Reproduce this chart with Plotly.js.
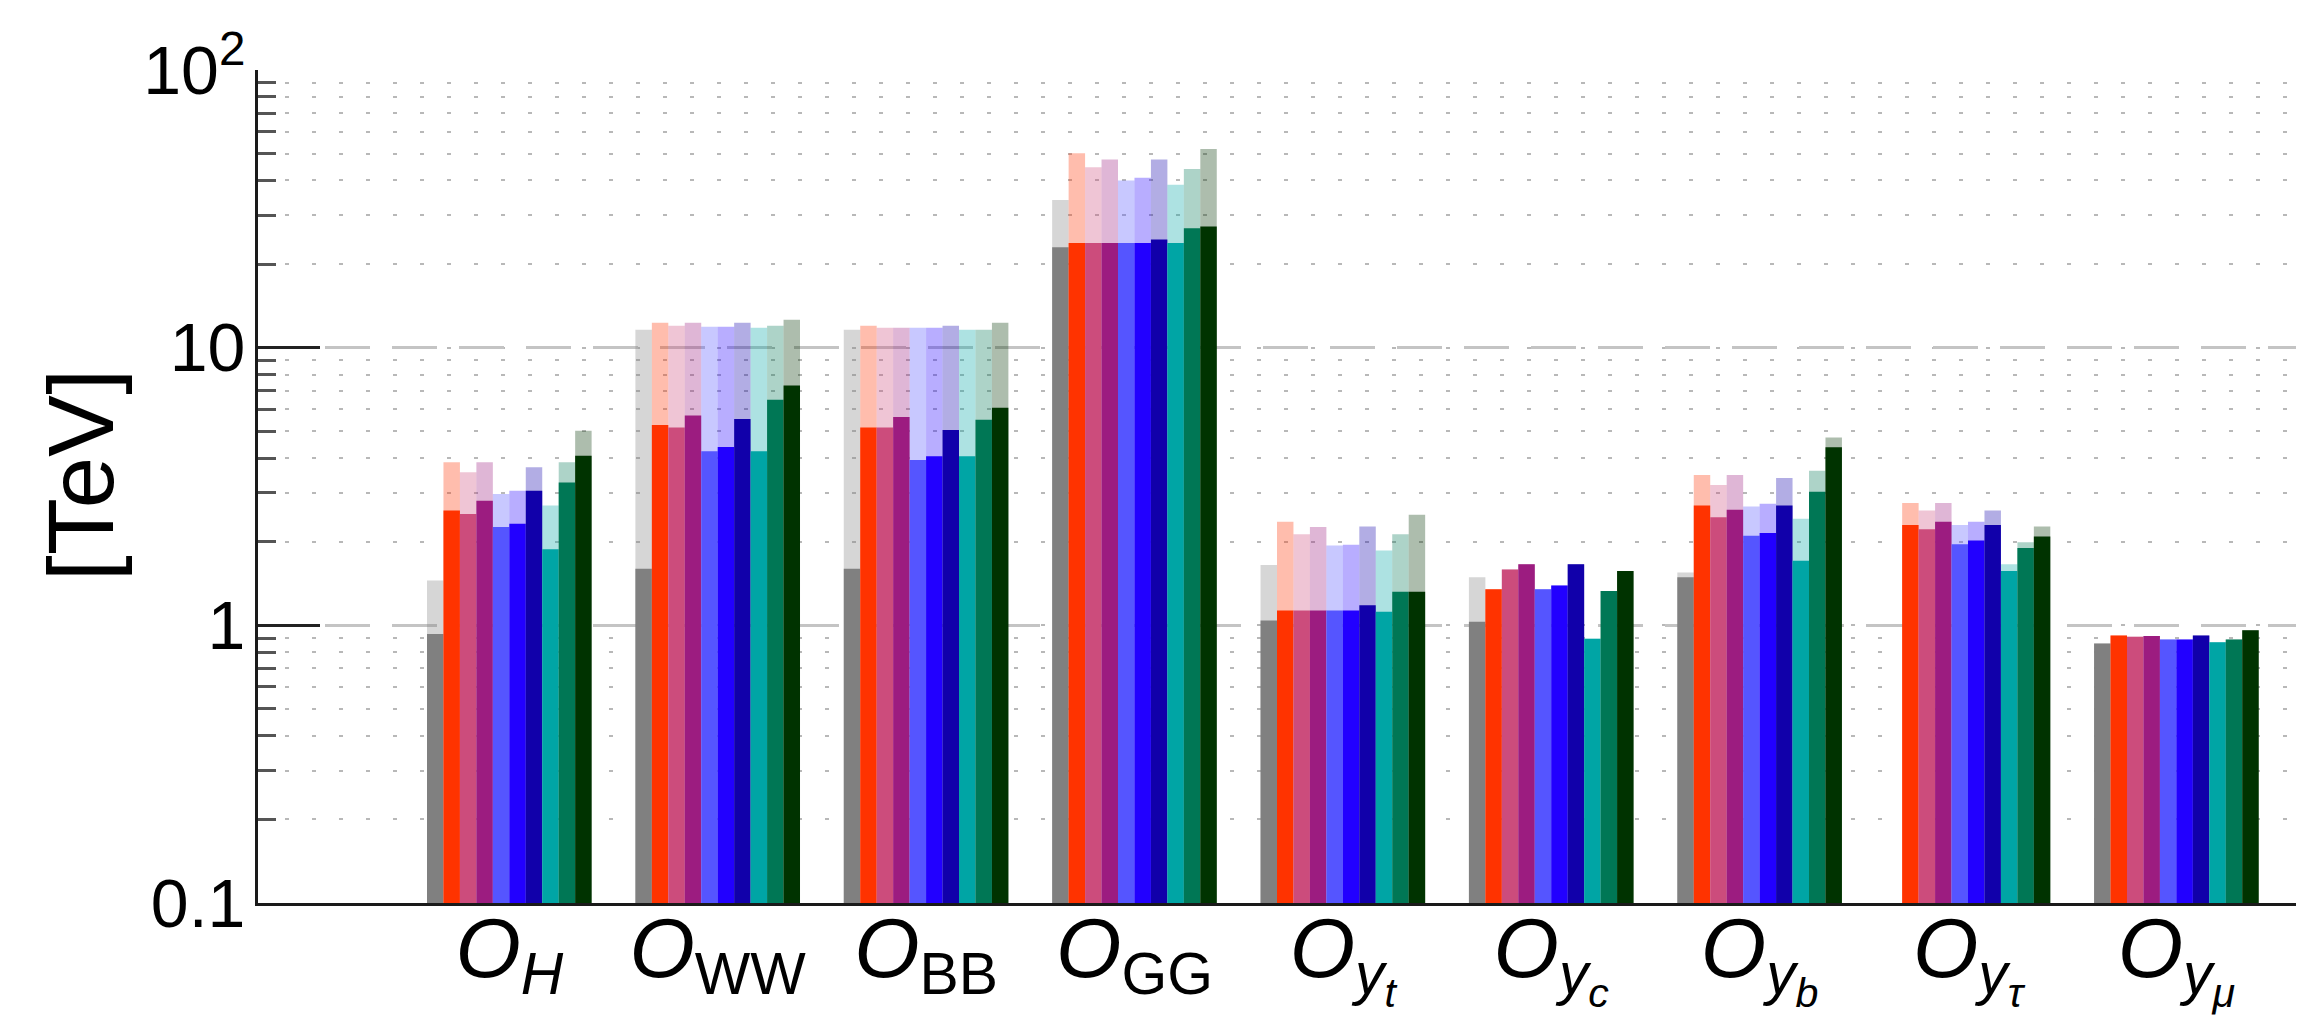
<!DOCTYPE html>
<html>
<head>
<meta charset="utf-8">
<script src="https://cdn.plot.ly/plotly-3.0.1.min.js"></script>
<style>
  html, body { margin: 0; padding: 0; background: #ffffff; }
  #chart { width: 2304px; height: 1028px; }
</style>
</head>
<body>
<div id="chart"></div>
<script>
// Operators on the category axis
const operators = ['O_H', 'O_WW', 'O_BB', 'O_GG', 'O_yt', 'O_yc', 'O_yb', 'O_ytau', 'O_ymu'];
const operatorLabels = [
  '<i>O</i><sub><i>H</i></sub>',
  '<i>O</i><sub>WW</sub>',
  '<i>O</i><sub>BB</sub>',
  '<i>O</i><sub>GG</sub>',
  '<i>O</i><sub><i>y</i><sub><i>t</i></sub></sub>',
  '<i>O</i><sub><i>y</i><sub><i>c</i></sub></sub>',
  '<i>O</i><sub><i>y</i><sub><i>b</i></sub></sub>',
  '<i>O</i><sub><i>y</i><sub><i>τ</i></sub></sub>',
  '<i>O</i><sub><i>y</i><sub><i>μ</i></sub></sub>'
];

// Reach in TeV per scenario: solid (lower) and faded (upper) values
const graySolid   = [0.93, 1.60, 1.60, 23.0, 1.04, 1.03, 1.49, null, 0.86];
const grayUpper   = [1.45, 11.6, 11.6, 34.0, 1.65, 1.49, 1.55, null, 0.86];
const redSolid    = [2.59, 5.27, 5.16, 23.8, 1.13, 1.35, 2.70, 2.30, 0.92];
const redUpper    = [3.87, 12.3, 12.0, 50.1, 2.36, 1.35, 3.48, 2.76, 0.92];
const roseSolid   = [2.52, 5.16, 5.16, 23.8, 1.13, 1.59, 2.45, 2.22, 0.91];
const roseUpper   = [3.56, 12.0, 11.8, 44.6, 2.13, 1.59, 3.20, 2.59, 0.91];
const plumSolid   = [2.81, 5.70, 5.63, 23.8, 1.13, 1.66, 2.61, 2.36, 0.915];
const plumUpper   = [3.87, 12.3, 11.8, 47.6, 2.26, 1.66, 3.48, 2.76, 0.915];
const lilacSolid  = [2.26, 4.24, 3.94, 23.8, 1.13, 1.35, 2.10, 1.96, 0.89];
const lilacUpper  = [2.97, 11.9, 11.8, 40.0, 1.94, 1.35, 2.68, 2.30, 0.89];
const blueSolid   = [2.32, 4.39, 4.06, 23.8, 1.13, 1.39, 2.15, 2.02, 0.89];
const blueUpper   = [3.05, 11.9, 11.8, 40.9, 1.95, 1.39, 2.74, 2.36, 0.89];
const navySolid   = [3.05, 5.53, 5.05, 24.5, 1.18, 1.66, 2.70, 2.30, 0.92];
const navyUpper   = [3.71, 12.3, 12.0, 47.6, 2.27, 1.66, 3.39, 2.59, 0.92];
const tealSolid   = [1.88, 4.24, 4.06, 23.8, 1.12, 0.894, 1.71, 1.57, 0.87];
const tealUpper   = [2.70, 11.8, 11.6, 38.6, 1.86, 0.894, 2.42, 1.66, 0.87];
const greenSolid  = [3.27, 6.49, 5.50, 26.9, 1.32, 1.33, 3.03, 1.90, 0.89];
const greenUpper  = [3.87, 12.0, 11.6, 44.0, 2.13, 1.33, 3.60, 1.99, 0.89];
const forestSolid = [4.08, 7.30, 6.08, 27.3, 1.32, 1.57, 4.38, 2.09, 0.96];
const forestUpper = [5.02, 12.6, 12.3, 51.9, 2.50, 1.57, 4.75, 2.27, 0.96];

// Y tick labels
const yTickVals = [0.1, 1, 10, 100];
const yTickText = ['0.1', '1', '10', '10<sup>2</sup>'];

const series = [
  { solid: graySolid,   upper: grayUpper,   rgb: [128, 128, 128] },
  { solid: redSolid,    upper: redUpper,    rgb: [255, 51, 0] },
  { solid: roseSolid,   upper: roseUpper,   rgb: [204, 76, 124] },
  { solid: plumSolid,   upper: plumUpper,   rgb: [156, 28, 128] },
  { solid: lilacSolid,  upper: lilacUpper,  rgb: [85, 85, 255] },
  { solid: blueSolid,   upper: blueUpper,   rgb: [34, 0, 255] },
  { solid: navySolid,   upper: navyUpper,   rgb: [17, 0, 170] },
  { solid: tealSolid,   upper: tealUpper,   rgb: [0, 165, 165] },
  { solid: greenSolid,  upper: greenUpper,  rgb: [0, 119, 85] },
  { solid: forestSolid, upper: forestUpper, rgb: [0, 51, 0] }
];

const groupWidth = 0.79;
const barWidth = groupWidth / series.length;

const traces = [];
series.forEach((s, k) => {
  const off = -groupWidth / 2 + k * barWidth;
  const [r, g, b] = s.rgb;
  traces.push({
    type: 'bar', x: operators, y: s.upper,
    width: barWidth, offset: off,
    marker: { color: `rgba(${r},${g},${b},0.32)`, line: { width: 0 } },
    hoverinfo: 'skip', showlegend: false
  });
  traces.push({
    type: 'bar', x: operators, y: s.solid,
    width: barWidth, offset: off,
    marker: { color: `rgb(${r},${g},${b})`, line: { width: 0 } },
    hoverinfo: 'skip', showlegend: false
  });
});

const fontFamily = 'Liberation Sans, Arial, sans-serif';

const layout = {
  width: 2304, height: 1028,
  margin: { l: 258, r: 8, t: 70, b: 125, pad: 0 },
  paper_bgcolor: '#ffffff', plot_bgcolor: '#ffffff',
  barmode: 'overlay',
  font: { family: fontFamily, color: '#000000' },
  showlegend: false,
  xaxis: {
    type: 'category',
    categoryorder: 'array', categoryarray: operators,
    range: [-1.206, 8.574],
    tickvals: operators, ticktext: operatorLabels,
    tickfont: { size: 84, family: fontFamily },
    ticks: '', showgrid: false, zeroline: false,
    showline: true, linecolor: '#1a1a1a', linewidth: 3,
    ticklabelstandoff: -30,
    fixedrange: true
  },
  yaxis: {
    type: 'log',
    range: [-1, 2],
    tickvals: yTickVals, ticktext: yTickText,
    tickfont: { size: 68, family: fontFamily },
    ticks: 'inside', ticklen: 62, tickwidth: 3, tickcolor: '#222222',
    ticklabelstandoff: -4,
    showline: true, linecolor: '#1a1a1a', linewidth: 3,
    showgrid: true, gridcolor: '#c4c4c4', gridwidth: 2.5, griddash: '45px,22px',
    zeroline: false,
    minor: {
      dtick: 'D1',
      ticks: 'inside', ticklen: 18, tickwidth: 3, tickcolor: '#555555',
      showgrid: true, gridcolor: '#b8b8b8', gridwidth: 2, griddash: '4px,23px'
    },
    fixedrange: true
  },
  annotations: [{
    // y-axis unit label
    text: '[TeV]',
    xref: 'paper', yref: 'paper',
    x: -0.0868, y: 0.514,
    xanchor: 'center', yanchor: 'middle',
    textangle: -90, showarrow: false,
    font: { size: 93, family: fontFamily, color: '#000000' }
  }]
};

Plotly.newPlot('chart', traces, layout, { staticPlot: true, displayModeBar: false });
</script>
</body>
</html>
